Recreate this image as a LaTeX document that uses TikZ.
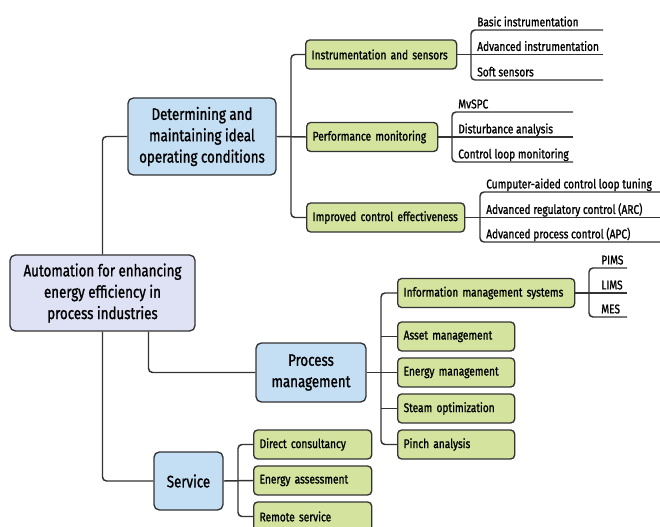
\documentclass[tikz,border=0pt]{standalone}
\usepackage{fontspec}
\setmainfont{Fira Sans}[FakeStretch=0.8,FakeBold=1.2]
\usepackage{tikz}

\definecolor{lnc}{RGB}{51,51,51}
\definecolor{grn}{RGB}{212,227,158}
\definecolor{blu}{RGB}{196,222,243}
\definecolor{lav}{RGB}{223,226,244}

\tikzset{
  link/.style={draw=lnc, line width=1.1pt, rounded corners=3pt},
  topbox/.style={draw=lnc, line width=1pt, rounded corners=4pt, align=center, inner sep=0pt,
    font=\fontsize{12.5}{16}\selectfont},
  rootbox/.style={topbox, fill=lav},
  bbox/.style={topbox, fill=blu},
  gbox/.style={draw=lnc, fill=grn, line width=1pt, rounded corners=3pt, anchor=west, align=left,
    inner xsep=4.5pt, inner ysep=0pt, minimum height=21.75pt, font=\fontsize{9.5}{11}\selectfont},
  leaf/.style={anchor=south west, inner xsep=4.5pt, inner ysep=2.5pt, text depth=0pt,
    font=\fontsize{9.5}{11}\selectfont},
}

\begin{document}
\begin{tikzpicture}[x=0.75pt,y=0.75pt,yscale=-1,xscale=1]
\useasboundingbox (0,0) rectangle (660,527);
\clip (0,0) rectangle (660,527);

% Main boxes
\node[rootbox, minimum width=138.75pt, minimum height=57pt] (root) at (102.5,293) {Automation for enhancing\\energy efficiency in\\process industries};
\node[bbox, minimum width=111pt, minimum height=57.75pt] (det) at (202,136.5) {Determining and\\maintaining ideal\\operating conditions};
\node[bbox, minimum width=82.5pt, minimum height=44.25pt] (pmg) at (311,372.5) {Process\\management};
\node[bbox, minimum width=51.75pt, minimum height=43.5pt] (srv) at (188.5,481) {Service};

% Green boxes
\node[gbox, text width=104.25pt] (ins) at (305,54.5) {Instrumentation and sensors};
\node[gbox, text width=89.25pt] (pm) at (306,137) {Performance monitoring};
\node[gbox, text width=109.5pt] (ice) at (306,217.5) {Improved control effectiveness};
\node[gbox, text width=123.75pt] (ims) at (397,293) {Information management systems};
\node[gbox, text width=78.75pt] (asm) at (397,336.5) {Asset management};
\node[gbox, text width=78.75pt] (enm) at (397,372.5) {Energy management};
\node[gbox, text width=78.75pt] (stm) at (397,408.5) {Steam optimization};
\node[gbox, text width=78.75pt] (pin) at (397,444.5) {Pinch analysis};
\node[gbox, text width=79.5pt] (dco) at (253,444.5) {Direct consultancy};
\node[gbox, text width=79.5pt] (eas) at (253,480.5) {Energy assessment};
\node[gbox, text width=79.5pt] (rem) at (253,516.5) {Remote service};

% Leaves
\node[leaf] (bi) at (471,30) {Basic instrumentation};
\node[leaf] (ai) at (471,54.5) {Advanced instrumentation};
\node[leaf] (ss) at (471,80) {Soft sensors};
\node[leaf] (mv) at (452,112) {MvSPC};
\node[leaf] (da) at (452,137) {Disturbance analysis};
\node[leaf] (cl) at (452,162) {Control loop monitoring};
\node[leaf] (ct) at (480,192) {Cumputer-aided control loop tuning};
\node[leaf] (arc) at (480,217.5) {Advanced regulatory control (ARC)};
\node[leaf] (apc) at (480,242) {Advanced process control (APC)};
\node[leaf, inner xsep=9pt] (pims) at (589,268) {PIMS};
\node[leaf, inner xsep=9pt] (lims) at (589,293) {LIMS};
\node[leaf, inner xsep=9pt] (mes) at (589,317) {MES};

\coordinate (dbar) at (291,137);
\coordinate (pbar) at (381,372.5);
\coordinate (sbar) at (238,481);
\coordinate (insend) at (603,0);
\coordinate (pmend) at (573,0);
\coordinate (iceend) at (664,0);
\coordinate (imsend) at (627,0);

% Root links
\draw[link] (root.north) |- (det.west);
\draw[link] ([xshift=34.5pt]root.south) |- (pmg.west);
\draw[link] (root.south) |- (srv.west);

% Determining links
\draw[link] (ins.west) -| (dbar) |- (ice.west);
\draw[link] (det.east) -- (pm.west);

% Process links
\draw[link] (ims.west) -| (pbar) |- (pin.west);
\draw[link] (pmg.east) -- (enm.west);
\draw[link] (pbar |- asm.west) -- (asm.west);
\draw[link] (pbar |- stm.west) -- (stm.west);

% Service links
\draw[link] (dco.west) -| (sbar) |- (rem.west);
\draw[link] (srv.east) -- (eas.west);

% Leaf brackets
\draw[link] (insend |- bi.south) -- (bi.south west) |- (insend |- ss.south);
\draw[link] (ins.east) -- (insend |- ai.south);
\draw[link] (pmend |- mv.south) -- (mv.south west) |- (pmend |- cl.south);
\draw[link] (pm.east) -- (pmend |- da.south);
\draw[link] (iceend |- ct.south) -- (ct.south west) |- (iceend |- apc.south);
\draw[link] (ice.east) -- (iceend |- arc.south);
\draw[link] (imsend |- pims.south) -- (pims.south west) |- (imsend |- mes.south);
\draw[link] (ims.east) -- (imsend |- lims.south);

\end{tikzpicture}
\end{document}
